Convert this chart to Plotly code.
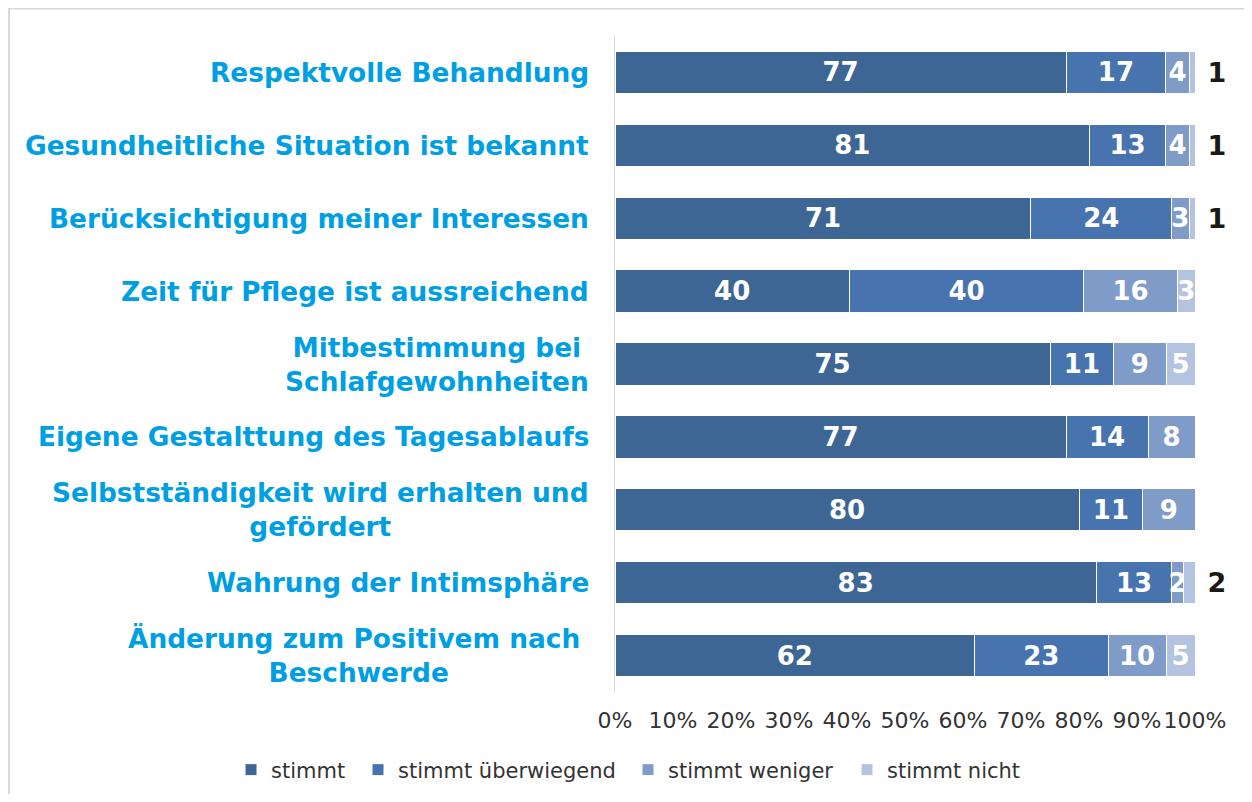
import plotly.graph_objects as go

categories = [
    "Respektvolle Behandlung",
    "Gesundheitliche Situation ist bekannt",
    "Berücksichtigung meiner Interessen",
    "Zeit für Pflege ist aussreichend",
    "Mitbestimmung bei<br>Schlafgewohnheiten",
    "Eigene Gestalttung des Tagesablaufs",
    "Selbstständigkeit wird erhalten und<br>gefördert",
    "Wahrung der Intimsphäre",
    "Änderung zum Positivem nach\u00a0<br>Beschwerde",
]
stimmt = [77, 81, 71, 40, 75, 77, 80, 83, 62]
stimmt_ueberwiegend = [17, 13, 24, 40, 11, 14, 11, 13, 23]
stimmt_weniger = [4, 4, 3, 16, 9, 8, 9, 2, 10]
stimmt_nicht = [1, 1, 1, 3, 5, None, None, 2, 5]

series = [
    ("stimmt", stimmt, "#3E6695"),
    ("stimmt überwiegend", stimmt_ueberwiegend, "#4774AE"),
    ("stimmt weniger", stimmt_weniger, "#7F9BC8"),
    ("stimmt nicht", stimmt_nicht, "#B4C3DF"),
]

# page has an 8px body margin; figure coordinates are screen - 8
W, H = 1236, 786
ycats = list(range(len(categories)))
FONT = "DejaVu Sans"
legend_left_screen = [231, 358, 628, 847]
legend_names = ["legend", "legend2", "legend3", "legend4"]

fig = go.Figure()
for k, (name, vals, color) in enumerate(series):
    last = name == "stimmt nicht"
    if last:
        texts = []
        pos = []
        for v in vals:
            if v is None:
                texts.append("")
                pos.append("none")
            elif v < 3:
                texts.append("\u00a0" + str(v))
                pos.append("outside")
            else:
                texts.append(str(v))
                pos.append("inside")
    else:
        texts = [str(v) for v in vals]
        pos = "inside"
    fig.add_trace(go.Bar(
        name=name, x=vals, y=ycats, orientation="h",
        marker=dict(color=color, line=dict(color="white", width=1)),
        text=texts, textposition=pos, textangle=0,
        insidetextanchor="middle", constraintext="none",
        insidetextfont=dict(family=FONT, size=26, color="white", weight="bold"),
        outsidetextfont=dict(family=FONT, size=27, color="#1b1914", weight="bold"),
        cliponaxis=not last, hoverinfo="skip", legend=legend_names[k],
    ))

annotations = []
for i, c in enumerate(categories):
    annotations.append(dict(
        text=c, x=0, xref="paper", y=i, yref="y",
        xanchor="right", yanchor="middle", xshift=-24, align="center",
        showarrow=False,
        font=dict(family=FONT, size=26.4, color="#009FE3", weight="bold"),
    ))

legend_common = dict(
    orientation="h", xref="container", yref="container",
    xanchor="left", y=1 - 762 / H, yanchor="middle",
    font=dict(family=FONT, size=21, color="#333333"),
    itemwidth=30, bgcolor="rgba(0,0,0,0)",
)
layout_legends = {}
for ln, sx in zip(legend_names, legend_left_screen):
    layout_legends[ln] = dict(legend_common, x=(sx - 8) / W)

fig.update_layout(
    barmode="stack", barnorm="percent", bargap=0.42,
    width=W, height=H,
    margin=dict(l=607, r=49, t=28, b=102, autoexpand=False),
    paper_bgcolor="white", plot_bgcolor="white",
    annotations=annotations,
    showlegend=True,
    xaxis=dict(
        range=[0, 100.0001], tickvals=list(range(0, 101, 10)),
        ticktext=[f"{v}%" for v in range(0, 101, 10)],
        showgrid=False, zeroline=False, showline=False,
        ticks="outside", ticklen=9, tickcolor="rgba(0,0,0,0)",
        tickfont=dict(family=FONT, size=22, color="#333333"),
    ),
    yaxis=dict(
        autorange="reversed", showticklabels=False, showgrid=False,
        zeroline=False, showline=True, linecolor="#d9d9d9", linewidth=1,
        ticks="",
    ),
    shapes=[dict(
        type="rect", xref="paper", yref="paper",
        x0=(1 - 607) / 580, x1=(W + 20 - 607) / 580,
        y0=(684 - H - 20) / 656, y1=(684 - 0.5) / 656,
        line=dict(color="#d9d9d9", width=2), fillcolor="rgba(0,0,0,0)",
        layer="below",
    )],
    **layout_legends,
)

fig.write_html("out.html")
